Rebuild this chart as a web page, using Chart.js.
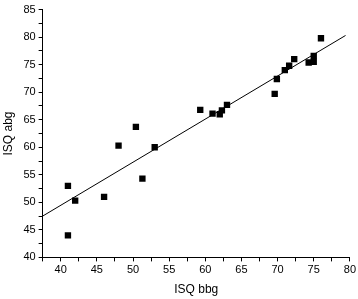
<!DOCTYPE html>
<html>
<head>
<meta charset="utf-8">
<script src="https://cdn.jsdelivr.net/npm/chart.js@4"></script>
<style>
  html, body { margin: 0; padding: 0; background: #fff; }
  #wrap { width: 358px; height: 299px; }
</style>
</head>
<body>
<div id="wrap"><canvas id="isqChart"></canvas></div>
<script>
// measured points (ISQ bbg vs ISQ abg)
const bbg = [41.0, 41.0, 42.0, 46.0, 51.3, 48.0, 50.4, 53.0, 59.3, 61.0, 62.0, 62.3, 63.0,
  69.6, 69.9, 71.0, 71.6, 72.3, 74.3, 75.0, 75.0, 76.0];
const abg = [53.0, 44.0, 50.3, 51.0, 54.3, 60.3, 63.7, 60.0, 66.8, 66.1, 66.0, 66.7, 67.7,
  69.7, 72.4, 74.0, 74.8, 76.0, 75.4, 75.5, 76.6, 79.8];

// regression line end points
const fitX = [37.5, 79.4];
const fitY = [47.5, 80.3];

const toPts = (xs, ys) => xs.map((x, i) => ({ x: x, y: ys[i] }));

// only label every 5, ticks every 2.5
const majorOnly = (v) => (v % 5 === 0 ? v : "");

document.addEventListener("DOMContentLoaded", () => {
  const ctx = document.getElementById("isqChart");
  const font = { family: "'Liberation Sans', Arial, sans-serif", size: 11 };

  const chart = new Chart(ctx, {
    type: "scatter",
    data: {
      datasets: [
        {
          data: toPts(bbg, abg),
          pointStyle: "rect",
          pointRadius: 4.5,
          backgroundColor: "#000",
          borderColor: "#000",
          borderWidth: 0,
        },
        {
          data: toPts(fitX, fitY),
          showLine: true,
          pointRadius: 0,
          borderColor: "#000",
          borderWidth: 1,
        },
      ],
    },
    options: {
      responsive: true,
      maintainAspectRatio: false,
      animation: false,
      layout: { padding: { top: 0, right: 3, left: 1, bottom: 0 } },
      plugins: { legend: { display: false }, tooltip: { enabled: false } },
      scales: {
        x: {
          min: 37.5,
          max: 80,
          border: { color: "#000", width: 1 },
          grid: { drawOnChartArea: false, tickLength: 4, tickColor: "#000" },
          ticks: { stepSize: 2.5, autoSkip: false, maxRotation: 0, color: "#000", font: font, padding: 2, callback: majorOnly },
          title: { display: true, text: "ISQ bbg", color: "#000", font: { family: font.family, size: 12 }, padding: { top: 4, bottom: 2 } },
        },
        y: {
          min: 40,
          max: 85,
          border: { color: "#000", width: 1 },
          grid: { drawOnChartArea: false, tickLength: 4, tickColor: "#000" },
          ticks: { stepSize: 2.5, autoSkip: false, color: "#000", font: font, padding: 3, callback: majorOnly },
          title: { display: true, text: "ISQ abg", color: "#000", font: { family: font.family, size: 12 }, padding: { top: 0, bottom: 5 } },
        },
      },
    },
  });
  console.log(JSON.stringify(chart.chartArea));
});
</script>
</body>
</html>
